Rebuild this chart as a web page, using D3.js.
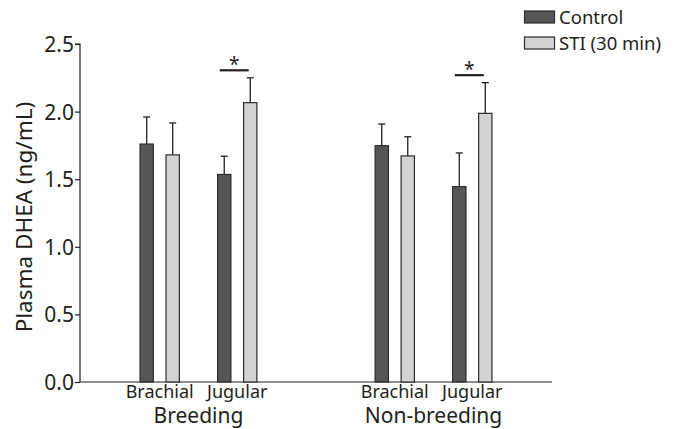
<!DOCTYPE html>
<html><head><meta charset="utf-8">
<script src="https://cdn.jsdelivr.net/npm/d3@7"></script>
<style>body{margin:0;background:#fff}svg{display:block}text{font-family:"Noto Sans",sans-serif;fill:#231f20}</style>
</head><body><svg id="c" width="676" height="429"></svg>
<script>
const groups = ["Breeding", "Non-breeding"];
const sites = ["Brachial", "Jugular"];
const series = ["Control", "STI (30 min)"];
const controlMean = [1.76, 1.535, 1.748, 1.445];
const controlUpper = [1.96, 1.67, 1.908, 1.694];
const stiMean = [1.68, 2.066, 1.672, 1.987];
const stiUpper = [1.916, 2.25, 1.814, 2.214];
const sigSites = [["Breeding","Jugular"],["Non-breeding","Jugular"]];
const yTicks = [0, 0.5, 1.0, 1.5, 2.0, 2.5];
const colors = ["#555658", "#d2d3d5"];

const svg = d3.select("#c");
const y = d3.scaleLinear().domain([0, 2.5]).range([382, 44]);
const xG = d3.scaleBand().domain(groups).range([80, 552]).paddingInner(0.3).paddingOuter(0.154);
const xS = d3.scaleBand().domain(sites).range([0, xG.bandwidth()]).paddingInner(0.5).paddingOuter(0.311);
const xB = d3.scaleBand().domain(series).range([-20.25, 20.25]).paddingInner(0.442).paddingOuter(0);

const rows = [];
groups.forEach((g, gi) => sites.forEach((s, si) => {
  const i = gi * 2 + si;
  rows.push({g, s, series: series[0], v: controlMean[i], u: controlUpper[i], c: colors[0]});
  rows.push({g, s, series: series[1], v: stiMean[i], u: stiUpper[i], c: colors[1]});
}));
const cx = d => xG(d.g) + xS(d.s) + xS.bandwidth() / 2;

// axes
const yAxis = d3.axisLeft(y).tickValues(yTicks).tickFormat(d3.format(".1f")).tickSize(5).tickPadding(1);
const ga = svg.append("g").attr("transform", "translate(80,0)").call(yAxis);
ga.select(".domain").attr("stroke", "#231f20").attr("stroke-width", 1.2).attr("d", "M-5,44H0V382");
ga.selectAll(".tick line").attr("stroke", "#231f20").attr("stroke-width", 1.2);
ga.selectAll(".tick text").style("font-size", "21px").attr("fill", "#231f20").attr("dy", "0.36em");

svg.append("line").attr("x1", 80).attr("x2", 552).attr("y1", y(0)).attr("y2", y(0))
  .attr("stroke", "#231f20").attr("stroke-width", 1.2);

// error bars
const eb = svg.append("g").attr("stroke", "#231f20").attr("stroke-width", 1.3);
rows.forEach(d => {
  const x = cx(d) + xB(d.series) + xB.bandwidth() / 2;
  eb.append("line").attr("x1", x).attr("x2", x).attr("y1", y(d.v)).attr("y2", y(d.u));
  eb.append("line").attr("x1", x - 3.5).attr("x2", x + 3.5).attr("y1", y(d.u)).attr("y2", y(d.u));
});

// bars
svg.append("g").selectAll("rect").data(rows).join("rect")
  .attr("x", d => cx(d) + xB(d.series) + 0.6)
  .attr("width", xB.bandwidth() - 1.2)
  .attr("y", d => y(d.v))
  .attr("height", d => y(0) - y(d.v))
  .attr("fill", d => d.c).attr("stroke", "#2b2b2b").attr("stroke-width", 1.2);

// significance
sigSites.forEach(([g, s]) => {
  const i = groups.indexOf(g) * 2 + sites.indexOf(s);
  const c = xG(g) + xS(s) + xS.bandwidth() / 2 - 3;
  const yy = y(stiUpper[i]) - 7.5;
  svg.append("line").attr("x1", c - 14.5).attr("x2", c + 14.5).attr("y1", yy).attr("y2", yy)
    .attr("stroke", "#231f20").attr("stroke-width", 2.2);
  svg.append("text").attr("x", c).attr("y", yy + 1).attr("text-anchor", "middle")
    .style("font-size", "19px").text("*");
});

// x labels
groups.forEach(g => {
  sites.forEach(s => {
    svg.append("text").attr("x", xG(g) + xS(s) + xS.bandwidth() / 2).attr("y", 398)
      .attr("text-anchor", "middle").style("font-size", "18px").text(s);
  });
  svg.append("text").attr("x", xG(g) + xG.bandwidth() / 2).attr("y", 423)
    .attr("text-anchor", "middle").style("font-size", "21px").text(g);
});

// y title
svg.append("text").attr("transform", "translate(32,217) rotate(-90)")
  .attr("text-anchor", "middle").style("font-size", "22.5px").text("Plasma DHEA (ng/mL)");

// legend
series.forEach((s, i) => {
  const ly = 11 + i * 26;
  svg.append("rect").attr("x", 524.5).attr("y", ly).attr("width", 30).attr("height", 12)
    .attr("fill", colors[i]).attr("stroke", "#2b2b2b").attr("stroke-width", 1.2);
  svg.append("text").attr("x", 559).attr("y", ly + 12.5).style("font-size", "18.5px").text(s);
});
</script></body></html>
